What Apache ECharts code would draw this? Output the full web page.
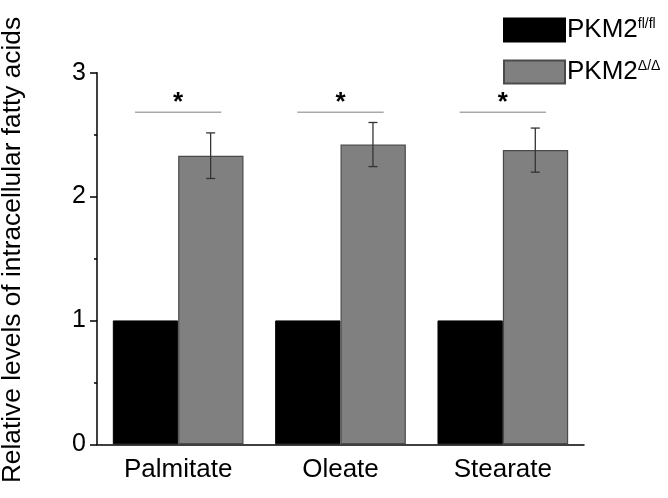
<!DOCTYPE html>
<html>
<head>
<meta charset="utf-8">
<script src="https://cdn.jsdelivr.net/npm/echarts@6/dist/echarts.min.js"></script>
<style>html,body{margin:0;padding:0;background:#fff}#c{width:668px;height:498px}</style>
</head>
<body>
<div id="c"></div>
<script>
const categories = ['Palmitate', 'Oleate', 'Stearate'];
const flValues = [1, 1, 1];
const deltaValues = [2.33, 2.42, 2.375];
const deltaErrors = [0.184, 0.178, 0.178];
const sigLevels = [2.68, 2.68, 2.68];
const sigMarks = ['*', '*', '*'];
const yTicks = [0, 1, 2, 3];

const FONT = 'Liberation Sans, Arial, sans-serif';
const chart = echarts.init(document.getElementById('c'), null, {renderer: 'canvas'});

const errData = categories.map((c, i) => [i, deltaValues[i], deltaErrors[i]]);
const sigData = categories.map((c, i) => [i, sigLevels[i], sigMarks[i]]);

chart.setOption({
  animation: false,
  backgroundColor: '#fff',
  textStyle: {fontFamily: FONT},
  grid: {left: 97, right: 84, top: 72.7, bottom: 53.7, containLabel: false, outerBoundsMode: 'none'},
  legend: {
    orient: 'vertical',
    left: 498, top: 12,
    itemWidth: 61, itemHeight: 23, itemGap: 16,
    icon: 'rect',
    selectedMode: false,
    data: ['fl', 'delta'],
    formatter: function (n) {
      return n === 'fl' ? '{a|PKM2}{b|fl/fl}' : '{a|PKM2}{b|Δ/Δ}';
    },
    textStyle: {
      padding: [0, 0, 0, -3],
      rich: {
        a: {fontSize: 26, color: '#000', fontFamily: FONT, verticalAlign: 'bottom', lineHeight: 26},
        b: {fontSize: 14, color: '#000', fontFamily: FONT, verticalAlign: 'top', lineHeight: 26, padding: [0, 0, 10, 0]}
      }
    }
  },
  xAxis: [{
    type: 'category',
    data: categories,
    axisLine: {lineStyle: {color: '#000', width: 1.5}},
    axisTick: {alignWithLabel: true, length: 6, lineStyle: {color: '#000', width: 1.5}},
    axisLabel: {color: '#000', fontSize: 26, margin: 13, fontFamily: FONT},
    splitLine: {show: false}
  }, {
    type: 'category',
    data: categories,
    position: 'bottom',
    axisLine: {show: false},
    axisTick: {alignWithLabel: false, length: 3, lineStyle: {color: '#000', width: 1.5}},
    axisLabel: {show: false},
    splitLine: {show: false}
  }],
  yAxis: {
    type: 'value',
    min: yTicks[0], max: yTicks[yTicks.length - 1], interval: 1,
    name: 'Relative levels of intracellular fatty acids',
    nameLocation: 'middle',
    nameRotate: 90,
    nameGap: 71,
    nameTextStyle: {fontSize: 26.3, color: '#000', fontFamily: FONT, padding: [0, 0, 0, 17]},
    axisLine: {show: true, lineStyle: {color: '#000', width: 1.5}},
    axisTick: {show: true, length: 7, lineStyle: {color: '#000', width: 1.5}},
    minorTick: {show: true, splitNumber: 2, length: 3, lineStyle: {color: '#000', width: 1.5}},
    axisLabel: {color: '#000', fontSize: 25, margin: 11, fontFamily: FONT},
    splitLine: {show: false}
  },
  series: [{
    name: 'fl', type: 'bar', data: flValues,
    barGap: 0, barCategoryGap: '19.5%',
    itemStyle: {color: '#000', borderColor: '#000', borderWidth: 1}
  }, {
    name: 'delta', type: 'bar', data: deltaValues,
    barGap: 0, barCategoryGap: '19.5%',
    itemStyle: {color: '#808080', borderColor: '#4a4a4a', borderWidth: 1.2}
  }, {
    type: 'custom', data: errData, z: 10,
    renderItem: function (params, api) {
      const i = api.value(0), v = api.value(1), e = api.value(2);
      const cw = api.size([1, 0])[0];
      const top = api.coord([i, v + e]);
      const bot = api.coord([i, v - e]);
      const x = top[0] + cw * 0.2;
      const cap = 4.5;
      const st = {stroke: '#333', lineWidth: 1.3};
      return {type: 'group', children: [
        {type: 'line', shape: {x1: x, y1: top[1], x2: x, y2: bot[1]}, style: st},
        {type: 'line', shape: {x1: x - cap, y1: top[1], x2: x + cap, y2: top[1]}, style: st},
        {type: 'line', shape: {x1: x - cap, y1: bot[1], x2: x + cap, y2: bot[1]}, style: st}
      ]};
    }
  }, {
    type: 'custom', data: sigData, z: 10,
    renderItem: function (params, api) {
      const i = api.value(0), v = api.value(1);
      const cw = api.size([1, 0])[0];
      const p = api.coord([i, v]);
      const hw = cw * 0.266;
      return {type: 'group', children: [
        {type: 'line', shape: {x1: p[0] - hw, y1: p[1], x2: p[0] + hw, y2: p[1]}, style: {stroke: '#aaa', lineWidth: 1.5}},
        {type: 'text', x: p[0], y: p[1] + 3, style: {text: sigData[params.dataIndex][2], fontSize: 26, fontWeight: 'bold', fontFamily: FONT, fill: '#000', align: 'center', verticalAlign: 'bottom'}}
      ]};
    }
  }]
});
</script>
</body>
</html>
